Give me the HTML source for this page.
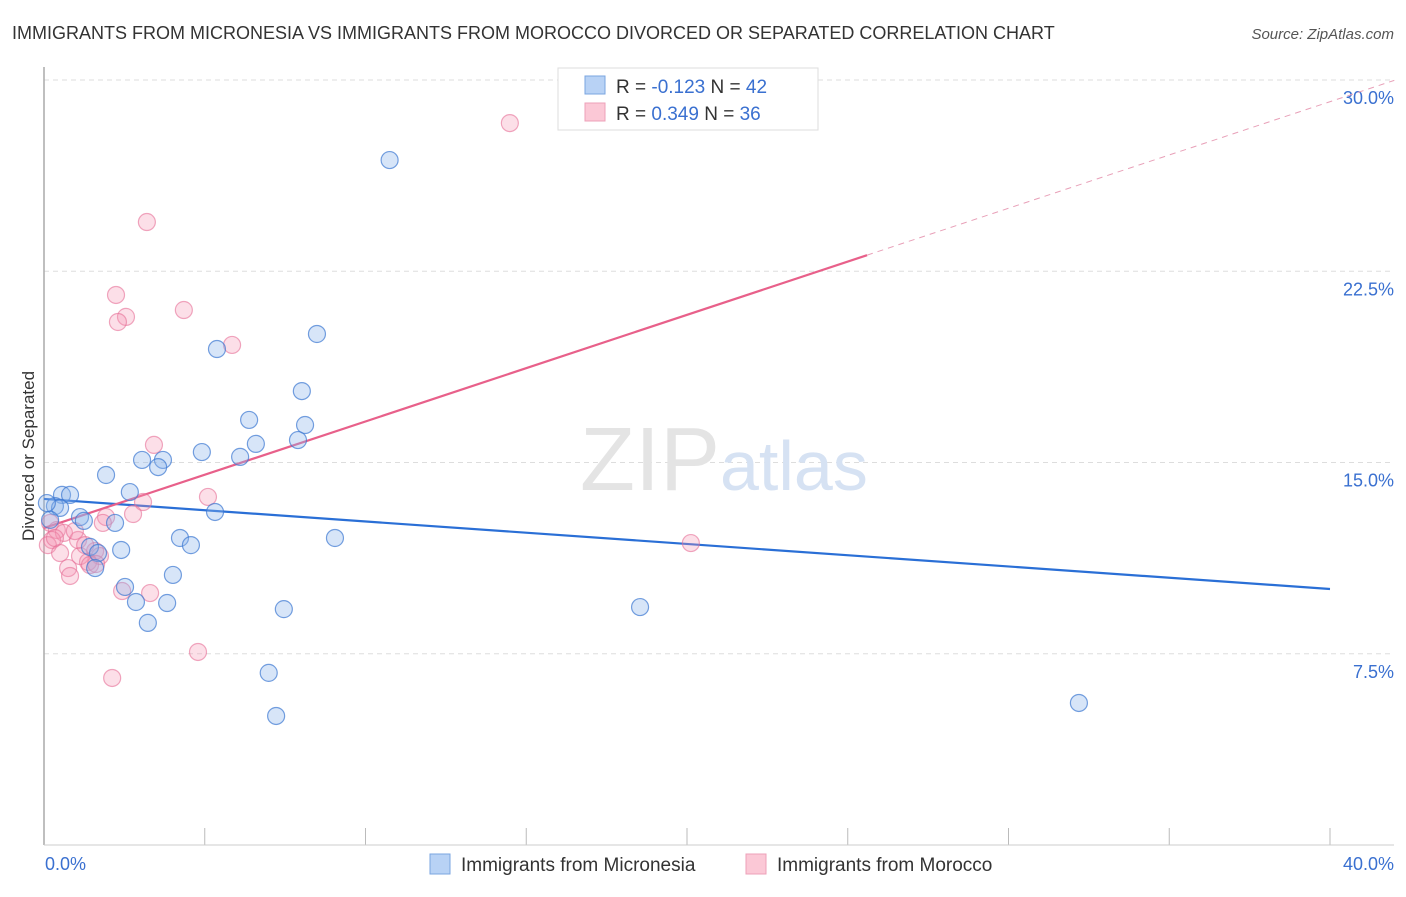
<!DOCTYPE html>
<html><head><meta charset="utf-8"><style>
body{margin:0;background:#fff;font-family:"Liberation Sans",sans-serif;}
svg text{font-family:"Liberation Sans",sans-serif;}
</style></head><body>
<svg width="1406" height="892" xmlns="http://www.w3.org/2000/svg">
<text x="12" y="39" font-size="18" fill="#333">IMMIGRANTS FROM MICRONESIA VS IMMIGRANTS FROM MOROCCO DIVORCED OR SEPARATED CORRELATION CHART</text>
<text x="1394" y="39" font-size="15" fill="#555" font-style="italic" text-anchor="end">Source: ZipAtlas.com</text>
<g id="grid"></g>
<text x="720" y="490" font-size="90" fill="#e4e4e4" font-family="Liberation Serif" text-anchor="end">ZIP</text>
<text x="720" y="490" font-size="70" fill="#d6e2f3">atlas</text>
<line x1="44" y1="67" x2="44" y2="845" stroke="#aaa" stroke-width="1.5"/>
<line x1="44" y1="845" x2="1394" y2="845" stroke="#ccc"/>
<text x="34" y="456" font-size="17" fill="#333" text-anchor="middle" transform="rotate(-90 34 456)">Divorced or Separated</text>
<text x="45" y="870" font-size="18" fill="#3a70d0">0.0%</text>
<text x="1394" y="870" font-size="18" fill="#3a70d0" text-anchor="end">40.0%</text>
<g id="lines"></g>
<g id="pts"></g>
<g>
<rect x="558" y="68" width="260" height="62" fill="#fff" stroke="#ddd"/>
<rect x="585" y="76" width="20" height="18" fill="#b8d2f5" stroke="#7aa5e0"/>
<rect x="585" y="103" width="20" height="18" fill="#fbc8d6" stroke="#eea0b8"/>
<text x="616" y="93" font-size="19" fill="#333">R = <tspan fill="#3a70d0">-0.123</tspan>   N = <tspan fill="#3a70d0">42</tspan></text>
<text x="616" y="120" font-size="19" fill="#333">R =  <tspan fill="#3a70d0">0.349</tspan>   N = <tspan fill="#3a70d0">36</tspan></text>
</g>
<g>
<rect x="430" y="854" width="20" height="20" fill="#b8d2f5" stroke="#7aa5e0"/>
<text x="461" y="871" font-size="19" fill="#333">Immigrants from Micronesia</text>
<rect x="746" y="854" width="20" height="20" fill="#fbc8d6" stroke="#eea0b8"/>
<text x="777" y="871" font-size="19" fill="#333">Immigrants from Morocco</text>
</g>
</svg>
<script>
const yTicks=[7.5,15,22.5,30];
const yTickLabels=["7.5%","15.0%","22.5%","30.0%"];
const xTicks=[0,5,10,15,20,25,30,35,40];
const blueX=[10.75,8.49,5.38,8.02,6.38,8.12,6.59,7.90,4.91,3.05,3.70,3.55,6.10,1.93,0.56,0.81,2.67,0.34,0.50,5.32,1.12,1.24,2.21,9.05,4.23,4.57,2.40,1.43,1.68,1.59,2.52,4.01,2.86,3.83,7.46,18.54,3.23,6.99,7.22,32.19,0.19,0.09];
const blueY=[26.86,20.04,19.45,17.80,16.67,16.47,15.73,15.88,15.41,15.10,15.10,14.82,15.22,14.51,13.73,13.73,13.84,13.29,13.22,13.06,12.86,12.71,12.63,12.04,12.04,11.76,11.57,11.69,11.45,10.86,10.12,10.59,9.53,9.49,9.25,9.33,8.71,6.75,5.06,5.57,12.75,13.41];
const pinkX=[14.49,3.20,2.24,2.55,2.30,4.35,5.85,3.42,5.10,3.08,2.77,1.93,1.83,0.19,0.40,0.62,0.25,0.12,1.06,1.59,1.74,0.50,1.12,1.37,1.43,0.75,0.81,2.43,3.30,20.12,4.79,2.12,0.96,1.28,0.34,1.62];
const pinkY=[28.31,24.43,21.57,20.71,20.51,20.98,19.61,15.69,13.65,13.45,12.98,12.86,12.63,12.63,12.35,12.24,11.96,11.76,11.96,11.53,11.33,11.45,11.33,11.10,10.98,10.86,10.55,9.96,9.88,11.84,7.57,6.55,12.31,11.76,12.04,11.02];
const blueTrend=[13.57,10.04];
const pinkTrend=[12.43,0.418];
const X=v=>44+v*32.15, Y=v=>845-v*25.5;
const NS="http://www.w3.org/2000/svg";
function mk(t,a,p){const e=document.createElementNS(NS,t);for(const k in a)e.setAttribute(k,a[k]);p.appendChild(e);return e;}
const grid=document.getElementById('grid');
yTicks.forEach((v,i)=>{
 const l=mk('line',{x1:44,x2:1394,y1:Y(v),y2:Y(v),stroke:'#ddd','stroke-dasharray':'5,4'},grid);
 
 
 const t=mk('text',{x:1394,y:Y(v)+24,'font-size':18,fill:'#3a70d0','text-anchor':'end'},grid);
 t.textContent=yTickLabels[i];
 
 
});
xTicks.forEach(v=>{
 const l=mk('line',{x1:X(v),x2:X(v),y1:828,y2:845,stroke:'#bbb'},grid);
 
 
});
const lines=document.getElementById('lines');
let e=mk('line',{x1:X(0),y1:Y(blueTrend[0]),x2:X(40),y2:Y(blueTrend[1]),stroke:'#2a6fd6','stroke-width':2.2},lines);


const pe=25.6;
e=mk('line',{x1:X(0),y1:Y(pinkTrend[0]),x2:X(pe),y2:Y(pinkTrend[0]+pinkTrend[1]*pe),stroke:'#e8608a','stroke-width':2.2},lines);


e=mk('line',{x1:X(pe),y1:Y(pinkTrend[0]+pinkTrend[1]*pe),x2:X(42),y2:Y(pinkTrend[0]+pinkTrend[1]*42),stroke:'#e8a0b8','stroke-width':1,'stroke-dasharray':'6,5'},lines);


const pts=document.getElementById('pts');
pinkX.forEach((v,i)=>{
 const c=mk('circle',{cx:X(v),cy:Y(pinkY[i]),r:8.5,fill:'rgba(245,150,180,0.3)',stroke:'rgba(230,110,150,0.6)','stroke-width':1.2},pts);
 
 
});
blueX.forEach((v,i)=>{
 const c=mk('circle',{cx:X(v),cy:Y(blueY[i]),r:8.5,fill:'rgba(140,180,235,0.35)',stroke:'rgba(60,120,210,0.7)','stroke-width':1.2},pts);
 
 
});
</script>
</body></html>
